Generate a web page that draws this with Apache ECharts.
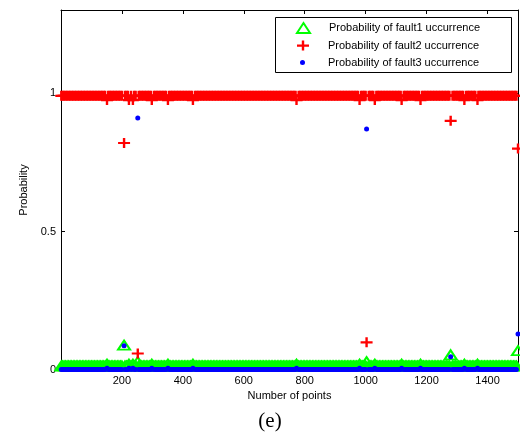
<!DOCTYPE html>
<html><head><meta charset="utf-8">
<script src="https://cdn.jsdelivr.net/npm/echarts@6/dist/echarts.min.js"></script>
<style>html,body{margin:0;padding:0;background:#fff}#c{width:520px;height:433px}</style>
</head><body><div id="c"></div>
<script>
// sample positions (Number of points)
const xs = [1,5,10,15,20,25,30,35,40,45,50,55,60,65,70,75,80,85,90,95,
100,105,110,115,120,125,130,135,140,145,151,155,160,165,170,175,180,185,190,195,
200,207,210,215,220,223,230,236,240,245,252,255,260,265,270,275,280,285,290,295,
298,305,310,315,320,325,330,335,340,345,351,355,360,365,370,375,380,385,390,395,
400,405,410,415,420,425,430,433,440,445,450,455,460,465,470,475,480,485,490,495,
500,505,510,515,520,525,530,535,540,545,550,555,560,565,570,575,580,585,590,595,
600,605,610,615,620,625,630,635,640,645,650,655,660,665,670,675,680,685,690,695,
700,705,710,715,720,725,730,735,740,745,750,755,760,765,770,773,780,785,790,795,
800,805,810,815,820,825,830,835,840,845,850,855,860,865,870,875,880,885,890,895,
900,905,910,915,920,925,930,935,940,945,950,955,960,965,970,975,980,985,990,995,
1000,1003,1010,1015,1020,1025,1030,1035,1040,1045,1050,1055,1060,1065,1070,1075,1080,1085,1090,1095,
1100,1105,1110,1115,1118,1125,1130,1135,1140,1145,1150,1155,1160,1165,1170,1175,1180,1185,1190,1195,
1200,1205,1210,1215,1220,1225,1230,1235,1240,1245,1250,1255,1260,1265,1270,1275,1279,1285,1290,1295,
1300,1305,1310,1315,1320,1324,1330,1335,1340,1345,1350,1355,1360,1367,1370,1375,1380,1385,1390,1395,
1400,1405,1410,1415,1420,1425,1430,1435,1440,1445,1450,1455,1460,1465,1470,1475,1480,1485,1490,1495,
1500];

// Probability of fault1 occurrence
const fault1 = [
0.015,0.015,0.015,0.015,0.015,0.015,0.015,0.015,0.015,0.015, 0.015,0.015,0.015,0.015,0.015,0.015,0.015,0.015,0.015,0.015,
0.015,0.015,0.015,0.015,0.015,0.015,0.015,0.015,0.015,0.015, 0.021,0.015,0.015,0.015,0.015,0.015,0.015,0.015,0.015,0.015,
0.015,0.09,0.015,0.015,0.015,0.021,0.015,0.021,0.015,0.015, 0.03,0.015,0.015,0.015,0.015,0.015,0.015,0.015,0.015,0.015,
0.021,0.015,0.015,0.015,0.015,0.015,0.015,0.015,0.015,0.015, 0.021,0.015,0.015,0.015,0.015,0.015,0.015,0.015,0.015,0.015,
0.015,0.015,0.015,0.015,0.015,0.015,0.015,0.021,0.015,0.015, 0.015,0.015,0.015,0.015,0.015,0.015,0.015,0.015,0.015,0.015,
0.015,0.015,0.015,0.015,0.015,0.015,0.015,0.015,0.015,0.015, 0.015,0.015,0.015,0.015,0.015,0.015,0.015,0.015,0.015,0.015,
0.015,0.015,0.015,0.015,0.015,0.015,0.015,0.015,0.015,0.015, 0.015,0.015,0.015,0.015,0.015,0.015,0.015,0.015,0.015,0.015,
0.015,0.015,0.015,0.015,0.015,0.015,0.015,0.015,0.015,0.015, 0.015,0.015,0.015,0.015,0.015,0.021,0.015,0.015,0.015,0.015,
0.015,0.015,0.015,0.015,0.015,0.015,0.015,0.015,0.015,0.015, 0.015,0.015,0.015,0.015,0.015,0.015,0.015,0.015,0.015,0.015,
0.015,0.015,0.015,0.015,0.015,0.015,0.015,0.015,0.015,0.015, 0.015,0.015,0.015,0.015,0.015,0.015,0.021,0.015,0.015,0.015,
0.015,0.03,0.015,0.015,0.015,0.015,0.021,0.015,0.015,0.015, 0.015,0.015,0.015,0.015,0.015,0.015,0.015,0.015,0.015,0.015,
0.015,0.015,0.015,0.015,0.021,0.015,0.015,0.015,0.015,0.015, 0.015,0.015,0.015,0.015,0.015,0.015,0.021,0.015,0.015,0.015,
0.015,0.015,0.015,0.015,0.015,0.015,0.015,0.015,0.015,0.015, 0.015,0.015,0.015,0.015,0.015,0.015,0.055,0.015,0.015,0.015,
0.015,0.015,0.015,0.015,0.015,0.021,0.015,0.015,0.015,0.015, 0.015,0.015,0.015,0.021,0.015,0.015,0.015,0.015,0.015,0.015,
0.015,0.015,0.015,0.015,0.015,0.015,0.015,0.015,0.015,0.015, 0.015,0.015,0.015,0.015,0.015,0.015,0.015,0.015,0.015,0.015,
0.07];

// Probability of fault2 occurrence
const fault2 = [
0.99,0.99,0.99,0.99,0.99,0.99,0.99,0.99,0.99,0.99, 0.99,0.99,0.99,0.99,0.99,0.99,0.99,0.99,0.99,0.99,
0.99,0.99,0.99,0.99,0.99,0.99,0.99,0.99,0.99,0.99, 0.975,0.99,0.99,0.99,0.99,0.99,0.99,0.99,0.99,0.99,
0.99,0.82,0.99,0.99,0.99,0.975,0.99,0.975,0.99,0.99, 0.06,0.99,0.99,0.99,0.99,0.99,0.99,0.99,0.99,0.99,
0.975,0.99,0.99,0.99,0.99,0.99,0.99,0.99,0.99,0.99, 0.975,0.99,0.99,0.99,0.99,0.99,0.99,0.99,0.99,0.99,
0.99,0.99,0.99,0.99,0.99,0.99,0.99,0.975,0.99,0.99, 0.99,0.99,0.99,0.99,0.99,0.99,0.99,0.99,0.99,0.99,
0.99,0.99,0.99,0.99,0.99,0.99,0.99,0.99,0.99,0.99, 0.99,0.99,0.99,0.99,0.99,0.99,0.99,0.99,0.99,0.99,
0.99,0.99,0.99,0.99,0.99,0.99,0.99,0.99,0.99,0.99, 0.99,0.99,0.99,0.99,0.99,0.99,0.99,0.99,0.99,0.99,
0.99,0.99,0.99,0.99,0.99,0.99,0.99,0.99,0.99,0.99, 0.99,0.99,0.99,0.99,0.99,0.975,0.99,0.99,0.99,0.99,
0.99,0.99,0.99,0.99,0.99,0.99,0.99,0.99,0.99,0.99, 0.99,0.99,0.99,0.99,0.99,0.99,0.99,0.99,0.99,0.99,
0.99,0.99,0.99,0.99,0.99,0.99,0.99,0.99,0.99,0.99, 0.99,0.99,0.99,0.99,0.99,0.99,0.975,0.99,0.99,0.99,
0.99,0.10,0.99,0.99,0.99,0.99,0.975,0.99,0.99,0.99, 0.99,0.99,0.99,0.99,0.99,0.99,0.99,0.99,0.99,0.99,
0.99,0.99,0.99,0.99,0.975,0.99,0.99,0.99,0.99,0.99, 0.99,0.99,0.99,0.99,0.99,0.99,0.975,0.99,0.99,0.99,
0.99,0.99,0.99,0.99,0.99,0.99,0.99,0.99,0.99,0.99, 0.99,0.99,0.99,0.99,0.99,0.99,0.90,0.99,0.99,0.99,
0.99,0.99,0.99,0.99,0.99,0.975,0.99,0.99,0.99,0.99, 0.99,0.99,0.99,0.975,0.99,0.99,0.99,0.99,0.99,0.99,
0.99,0.99,0.99,0.99,0.99,0.99,0.99,0.99,0.99,0.99, 0.99,0.99,0.99,0.99,0.99,0.99,0.99,0.99,0.99,0.99,
0.80];

// Probability of fault3 occurrence
const fault3 = [
0.002,0.002,0.002,0.002,0.002,0.002,0.002,0.002,0.002,0.002, 0.002,0.002,0.002,0.002,0.002,0.002,0.002,0.002,0.002,0.002,
0.002,0.002,0.002,0.002,0.002,0.002,0.002,0.002,0.002,0.002, 0.006,0.002,0.002,0.002,0.002,0.002,0.002,0.002,0.002,0.002,
0.002,0.088,0.002,0.002,0.002,0.006,0.002,0.006,0.002,0.002, 0.91,0.002,0.002,0.002,0.002,0.002,0.002,0.002,0.002,0.002,
0.006,0.002,0.002,0.002,0.002,0.002,0.002,0.002,0.002,0.002, 0.006,0.002,0.002,0.002,0.002,0.002,0.002,0.002,0.002,0.002,
0.002,0.002,0.002,0.002,0.002,0.002,0.002,0.006,0.002,0.002, 0.002,0.002,0.002,0.002,0.002,0.002,0.002,0.002,0.002,0.002,
0.002,0.002,0.002,0.002,0.002,0.002,0.002,0.002,0.002,0.002, 0.002,0.002,0.002,0.002,0.002,0.002,0.002,0.002,0.002,0.002,
0.002,0.002,0.002,0.002,0.002,0.002,0.002,0.002,0.002,0.002, 0.002,0.002,0.002,0.002,0.002,0.002,0.002,0.002,0.002,0.002,
0.002,0.002,0.002,0.002,0.002,0.002,0.002,0.002,0.002,0.002, 0.002,0.002,0.002,0.002,0.002,0.006,0.002,0.002,0.002,0.002,
0.002,0.002,0.002,0.002,0.002,0.002,0.002,0.002,0.002,0.002, 0.002,0.002,0.002,0.002,0.002,0.002,0.002,0.002,0.002,0.002,
0.002,0.002,0.002,0.002,0.002,0.002,0.002,0.002,0.002,0.002, 0.002,0.002,0.002,0.002,0.002,0.002,0.006,0.002,0.002,0.002,
0.002,0.87,0.002,0.002,0.002,0.002,0.006,0.002,0.002,0.002, 0.002,0.002,0.002,0.002,0.002,0.002,0.002,0.002,0.002,0.002,
0.002,0.002,0.002,0.002,0.006,0.002,0.002,0.002,0.002,0.002, 0.002,0.002,0.002,0.002,0.002,0.002,0.006,0.002,0.002,0.002,
0.002,0.002,0.002,0.002,0.002,0.002,0.002,0.002,0.002,0.002, 0.002,0.002,0.002,0.002,0.002,0.002,0.048,0.002,0.002,0.002,
0.002,0.002,0.002,0.002,0.002,0.006,0.002,0.002,0.002,0.002, 0.002,0.002,0.002,0.006,0.002,0.002,0.002,0.002,0.002,0.002,
0.002,0.002,0.002,0.002,0.002,0.002,0.002,0.002,0.002,0.002, 0.002,0.002,0.002,0.002,0.002,0.002,0.002,0.002,0.002,0.002,
0.13];

const seriesNames = ['Probability of fault1 uccurrence','Probability of fault2 uccurrence','Probability of fault3 uccurrence'];
const xTicks = {min: 0, max: 1500, interval: 200};
const yTicks = {min: 0, max: 1.3, interval: 0.5};

const FONT = '"Liberation Sans", Arial, sans-serif';
const PLUS = 'path://M0,4L12,4L12,6.2L0,6.2Z M4.8,0L7.2,0L7.2,10L4.8,10Z';
const triStyle = {color: 'rgba(0,0,0,0)', borderColor: '#00ff00', borderWidth: 2, opacity: 1};

const chart = echarts.init(document.getElementById('c'), null, {renderer: 'canvas'});
const axisBase = {
  axisLine: {show: true, onZero: false, lineStyle: {color: '#000', width: 1}},
  axisTick: {show: true, inside: true, length: 4, lineStyle: {color: '#000'}},
  splitLine: {show: false}
};
const legendText = (padLeft) => ({fontFamily: FONT, fontSize: 11, color: '#000', padding: [0, 0, 0, padLeft]});
chart.setOption({
  animation: false,
  backgroundColor: '#fff',
  grid: {left: 61, right: 2, top: 10, bottom: 63},
  xAxis: [
    Object.assign({}, axisBase, {type: 'value', position: 'bottom', min: xTicks.min, max: xTicks.max, interval: xTicks.interval,
      name: 'Number of points', nameLocation: 'middle', nameGap: 18,
      nameTextStyle: {fontFamily: FONT, fontSize: 11, color: '#000'},
      axisLabel: {showMinLabel: false, showMaxLabel: false, margin: 5, fontFamily: FONT, fontSize: 11, color: '#000',
        formatter: (v) => String(v)}}),
    Object.assign({}, axisBase, {type: 'value', position: 'top', min: xTicks.min, max: xTicks.max, interval: xTicks.interval,
      axisLabel: {show: false}})
  ],
  yAxis: [
    Object.assign({}, axisBase, {type: 'value', position: 'left', min: yTicks.min, max: yTicks.max, interval: yTicks.interval,
      name: 'Probability', nameLocation: 'middle', nameGap: 27, nameRotate: 90,
      nameTextStyle: {fontFamily: FONT, fontSize: 11, color: '#000'},
      axisLabel: {showMaxLabel: false, margin: 5, fontFamily: FONT, fontSize: 11, color: '#000',
        formatter: (v) => String(v)}}),
    Object.assign({}, axisBase, {type: 'value', position: 'right', min: yTicks.min, max: yTicks.max, interval: yTicks.interval,
      axisLabel: {show: false}})
  ],
  legend: [
    {data: [{name: seriesNames[0], icon: 'triangle', itemStyle: triStyle}], left: 296, top: 22, itemWidth: 13, itemHeight: 10,
      padding: 0, selectedMode: false, z: 10, textStyle: legendText(14)},
    {data: [{name: seriesNames[1], icon: PLUS, itemStyle: {color: '#ff0000', opacity: 1}}], left: 297, top: 40, itemWidth: 12, itemHeight: 12,
      padding: 0, selectedMode: false, z: 10, textStyle: legendText(14)},
    {data: [{name: seriesNames[2], icon: 'circle', itemStyle: {color: '#0000ff', opacity: 1}}], left: 300, top: 57, itemWidth: 5, itemHeight: 5,
      padding: 0, selectedMode: false, z: 10, textStyle: legendText(18)}
  ],
  graphic: {elements: [
    {type: 'rect', shape: {x: 275.5, y: 17.5, width: 236, height: 55}, style: {fill: '#fff', stroke: '#000', lineWidth: 1}, z: 5},
    {type: 'text', x: 270, y: 421, z: 5, style: {text: '(e)', font: '21px "Liberation Serif", "Times New Roman", serif', fill: '#000', textAlign: 'center', textVerticalAlign: 'middle'}}
  ]},
  series: [
    {name: seriesNames[0], type: 'scatter', clip: false, symbol: 'triangle', symbolSize: [12, 9],
      itemStyle: triStyle, emphasis: {disabled: true},
      data: xs.map((x, i) => [x, fault1[i]])},
    {name: seriesNames[1], type: 'scatter', clip: false, symbol: PLUS, symbolSize: [12, 10],
      itemStyle: {color: '#ff0000', opacity: 1}, emphasis: {disabled: true},
      data: xs.map((x, i) => [x, fault2[i]])},
    {name: seriesNames[2], type: 'scatter', clip: false, symbol: 'circle', symbolSize: 5,
      itemStyle: {color: '#0000ff', opacity: 1}, emphasis: {disabled: true},
      data: xs.map((x, i) => [x, fault3[i]])}
  ]
});
</script>
</body></html>
